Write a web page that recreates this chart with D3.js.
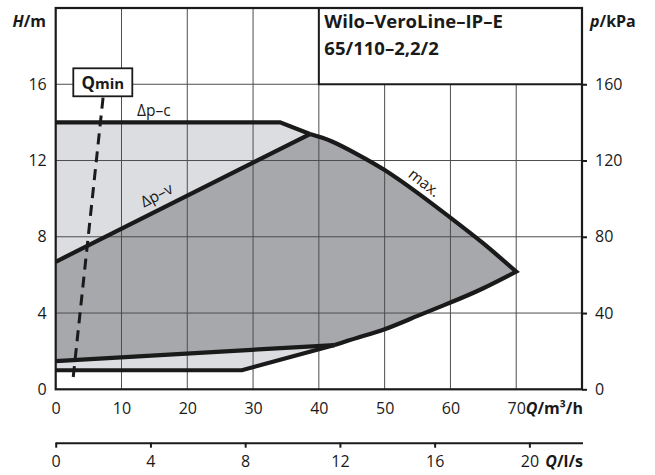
<!DOCTYPE html>
<html><head><meta charset="utf-8">
<script src="https://cdn.jsdelivr.net/npm/d3@7"></script>
<style>
html,body{margin:0;padding:0;background:#fff;}
svg{display:block;font-family:"Open Sans",sans-serif;}
</style></head>
<body><svg id="c" width="655" height="475"></svg>
<script>
// ---- data ----
const qTicks = [0,10,20,30,40,50,60,70];
const hTicks = [0,4,8,12,16];
const pTicks = [0,40,80,120,160];
const lsTicks = [0,4,8,12,16,20];
const gridQ = [10,20,30,40,50,60,70];
const gridH = [4,8,12,16];

const dpcMaxQ = [0,34.1,38.65];
const dpcMaxH = [14,14,13.39];
const dpvMaxQ = [0,38.65];
const dpvMaxH = [6.69,13.39];
const maxCurveQ = [38.65,42,46,50,55,60,65,70];
const maxCurveH = [13.39,13.0,12.3,11.5,10.3,9.0,7.65,6.17];
const minCurveQ = [42.4,46,50,55,60,65,70];
const minCurveH = [2.32,2.72,3.15,3.85,4.55,5.3,6.17];
const dpvMinQ = [0,42.4];
const dpvMinH = [1.48,2.32];
const dpcMinQ = [0,28.3,42.4];
const dpcMinH = [1.0,1.0,2.32];
const qminQ = [7.2,2.65];
const qminH = [15.3,0.6];

const zip = (a,b)=>a.map((v,i)=>[v,b[i]]);

// ---- scales ----
const svg = d3.select("#c");
const L=55.7, R=582, T=8, B=389.3;
const x = d3.scaleLinear().domain([0,80]).range([L,R]);
const y = d3.scaleLinear().domain([0,20]).range([B,T]);
const yp = d3.scaleLinear().domain([0,200]).range([B,T]);
const xls = d3.scaleLinear().domain([0,80/3.6]).range([L,R]);

const line = d3.line().x(d=>x(d[0])).y(d=>y(d[1]));
const smooth = d3.line().x(d=>x(d[0])).y(d=>y(d[1])).curve(d3.curveNatural);

const maxPts = zip(maxCurveQ,maxCurveH);
const minPts = zip(minCurveQ,minCurveH);
const minRev = smooth(minPts.slice().reverse());

function join(paths){ return paths.map((p,i)=> i===0 ? p : "L"+p.slice(1)).join(""); }

// light envelope
svg.append("path")
  .attr("d", join([
    line(zip(dpcMaxQ,dpcMaxH)),
    smooth(maxPts),
    minRev,
    line(zip(dpcMinQ,dpcMinH).reverse())
  ])+"Z")
  .attr("fill","#dcdde0");

// dark region
svg.append("path")
  .attr("d", join([
    line(zip(dpvMaxQ,dpvMaxH)),
    smooth(maxPts),
    minRev,
    line(zip(dpvMinQ,dpvMinH).reverse())
  ])+"Z")
  .attr("fill","#a7a8ab");

// grid
svg.append("g").selectAll("line").data(gridQ).join("line")
  .attr("x1",d=>x(d)).attr("x2",d=>x(d)).attr("y1",y(0)).attr("y2",y(20))
  .attr("stroke","#4d4d4d").attr("stroke-width",1);
svg.append("g").selectAll("line").data(gridH).join("line")
  .attr("x1",x(0)).attr("x2",x(80)).attr("y1",d=>y(d)).attr("y2",d=>y(d))
  .attr("stroke","#4d4d4d").attr("stroke-width",1);

// title box (covers grid)
svg.append("rect").attr("x",x(40)).attr("y",y(20)).attr("width",x(80)-x(40)).attr("height",y(16)-y(20))
  .attr("fill","#fff").attr("stroke","#1a1a1a").attr("stroke-width",2);
const tt = svg.append("text").attr("font-weight","bold").attr("font-size",18.5).attr("fill","#1a1a1a");
tt.append("tspan").attr("x",x(40)+5.5).attr("y",28.3).text("Wilo–VeroLine–IP–E");
tt.append("tspan").attr("x",x(40)+5.5).attr("y",55).text("65/110–2,2/2");

// curves
const curveStyle = s => s.attr("fill","none").attr("stroke","#1a1a1a").attr("stroke-width",4.2).attr("stroke-linejoin","miter");
svg.append("path").attr("d",line(zip(dpcMaxQ,dpcMaxH))).call(curveStyle);
svg.append("path").attr("d",line(zip(dpvMaxQ,dpvMaxH))).call(curveStyle);
svg.append("path").attr("d",join([smooth(maxPts),minRev])).call(curveStyle);
svg.append("path").attr("d",line(zip(dpvMinQ,dpvMinH))).call(curveStyle);
svg.append("path").attr("d",line(zip(dpcMinQ,dpcMinH))).call(curveStyle);

// Qmin dashed
svg.append("path").attr("d",line(zip(qminQ,qminH))).attr("fill","none")
  .attr("stroke","#1a1a1a").attr("stroke-width",3).attr("stroke-dasharray","11,7");
svg.append("rect").attr("x",73.3).attr("y",68.3).attr("width",59).attr("height",28)
  .attr("fill","#fff").attr("stroke","#1a1a1a").attr("stroke-width",1.8);
const qt = svg.append("text").attr("x",81.5).attr("y",89).attr("font-weight","bold").attr("fill","#1a1a1a");
qt.append("tspan").attr("font-size",17).text("Q");
qt.append("tspan").attr("font-size",15).text("min");

// curve labels
svg.append("text").attr("x",137).attr("y",115.5).attr("font-size",15.5).attr("fill","#1a1a1a").text("Δp–c");
svg.append("text").attr("transform","translate(159,200) rotate(-27)").attr("text-anchor","middle")
  .attr("font-size",15.5).attr("fill","#1a1a1a").text("Δp–v");
svg.append("text").attr("transform","translate(421,187) rotate(38)").attr("text-anchor","middle")
  .attr("font-size",15.5).attr("fill","#1a1a1a").text("max.");

// frame
svg.append("rect").attr("x",L).attr("y",T).attr("width",R-L).attr("height",B-T)
  .attr("fill","none").attr("stroke","#1a1a1a").attr("stroke-width",2.2);

// axes
const styleAxis = g => { g.selectAll("text").attr("font-size",16).attr("fill","#1a1a1a").attr("font-family","Open Sans"); };
svg.append("g").attr("transform",`translate(0,${B})`)
  .call(d3.axisBottom(x).tickValues(qTicks).tickSize(0).tickPadding(13).tickFormat(d3.format("d")))
  .call(g=>g.select(".domain").remove()).call(styleAxis);
svg.append("g").attr("transform",`translate(${L},0)`)
  .call(d3.axisLeft(y).tickValues(hTicks).tickSize(0).tickPadding(9).tickFormat(d3.format("d")))
  .call(g=>g.select(".domain").remove()).call(styleAxis);
svg.append("g").attr("transform",`translate(${R},0)`)
  .call(d3.axisRight(yp).tickValues(pTicks).tickSize(5).tickPadding(8).tickFormat(d3.format("d")))
  .call(g=>g.select(".domain").remove())
  .call(g=>g.selectAll("line").attr("stroke","#1a1a1a").attr("stroke-width",2))
  .call(styleAxis);
svg.append("g").attr("transform","translate(0,442.7)")
  .call(d3.axisBottom(xls).tickValues(lsTicks).tickSize(5).tickSizeOuter(0).tickPadding(8).tickFormat(d3.format("d")))
  .call(g=>g.select(".domain").attr("stroke","#1a1a1a").attr("stroke-width",2).attr("d",`M${L},0.5H${R+1}`))
  .call(g=>g.selectAll(".tick line").attr("stroke","#1a1a1a").attr("stroke-width",2))
  .call(styleAxis);

// axis titles
function title(xp,yb,anchor,parts){
  const t = svg.append("text").attr("x",xp).attr("y",yb).attr("text-anchor",anchor)
    .attr("font-size",16).attr("font-weight","bold").attr("fill","#1a1a1a");
  parts.forEach(p=>{ const s=t.append("tspan").text(p[0]); if(p[1]) s.attr("font-style","italic"); });
}
title(46,27,"end",[["H",1],["/m"]]);
title(590,27,"start",[["p",1],["/kPa"]]);
title(583,414,"end",[["Q",1],["/m³/h"]]);
title(583,467,"end",[["Q",1],["/l/s"]]);
</script></body></html>
